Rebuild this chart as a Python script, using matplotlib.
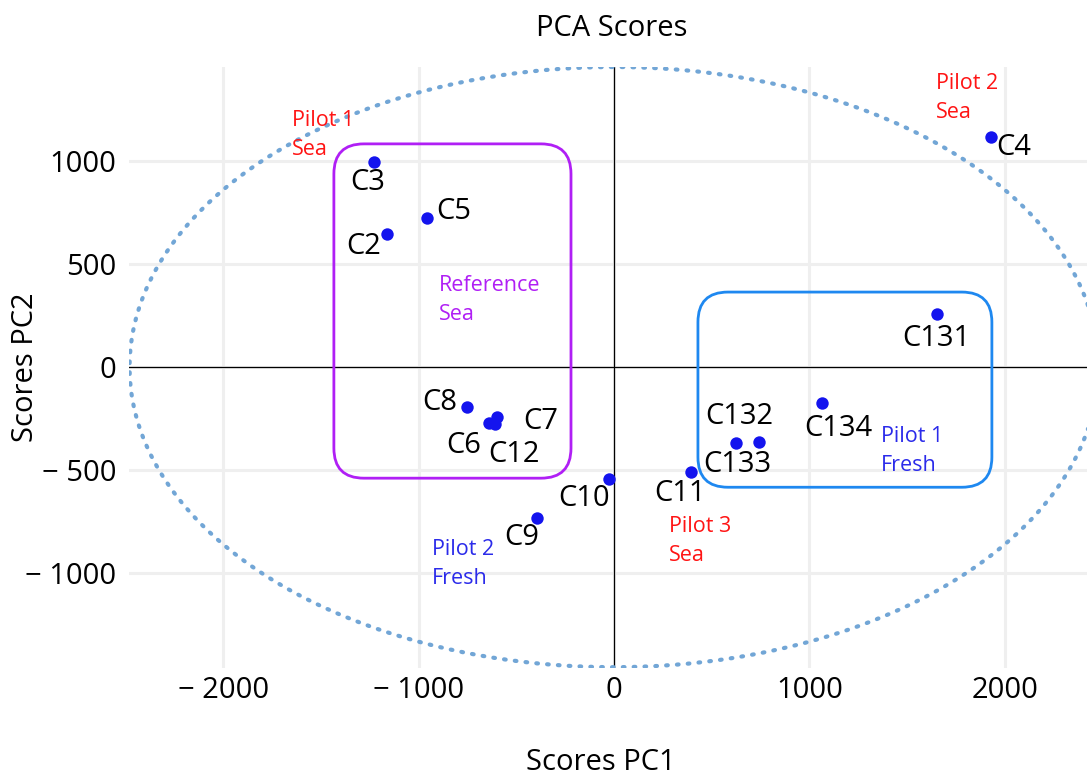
import numpy as np
import matplotlib
matplotlib.use('Agg')
import matplotlib.pyplot as plt
from matplotlib.patches import FancyBboxPatch

# ---------------- data ----------------
sample_names = ['C3', 'C2', 'C5', 'C8', 'C7', 'C6', 'C12', 'C10', 'C9',
                'C11', 'C132', 'C133', 'C134', 'C131', 'C4']
pc1_scores = [-1229, -1162, -957, -753, -599, -640, -609, -26, -394,
              394, 742, 625, 1065, 1654, 1930]
pc2_scores = [995, 646, 723, -194, -243, -272, -277, -544, -733,
              -510, -364, -369, -175, 257, 1117]

x_ticks = [-2000, -1000, 0, 1000, 2000]
x_tick_labels = ['\u2212 2000', '\u2212 1000', '0', '1000', '2000']
y_ticks = [-1000, -500, 0, 500, 1000]
y_tick_labels = ['\u2212 1000', '\u2212 500', '0', '500', '1000']

ellipse_center = (0, 0)
ellipse_radii = (2480, 1456)

group_names = ['Reference\nSea', 'Pilot 1\nFresh']
group_x_range = [(-1434, -220), (430, 1935)]
group_y_range = [(-539, 1083), (-583, 364)]

note_texts = ['Pilot 1\nSea', 'Pilot 2\nSea', 'Reference\nSea',
              'Pilot 1\nFresh', 'Pilot 2\nFresh', 'Pilot 3\nSea']
note_x = [-1649, 1649, -896, 1367, -932, 282]
note_y = [1126, 1306, 325, -408, -956, -845]

# ---------------- styles ----------------
label_offsets = {  # pixel offsets of label centers from points
    'C3': (-6, -20), 'C2': (-23, -13), 'C5': (27, 7), 'C8': (-27, 5),
    'C7': (44, -4), 'C6': (-25, -22), 'C12': (19, -30), 'C10': (-25, -19),
    'C9': (-15, -19), 'C11': (-11, -21), 'C132': (-20, 26), 'C133': (1, -21),
    'C134': (16, -25), 'C131': (-1, -24), 'C4': (23, -11),
}
note_colors = ['#ff1414', '#ff1414', '#b01ff5', '#2b2bea', '#2b2bea', '#ff1414']
group_colors = ['#b01ff5', '#1e88f0']

plt.rcParams['font.family'] = ['Open Sans', 'DejaVu Sans']

W, H = 1087, 775
fig = plt.figure(figsize=(W / 100, H / 100), dpi=100)
ax = fig.add_axes([129 / W, 1 - 668 / H, (1087 - 129) / W, (668 - 67) / H])
ax.set_xlim(-2483, 2422)
ax.set_ylim(-1460, 1456)

for s in ax.spines.values():
    s.set_visible(False)

ax.set_xticks(x_ticks)
ax.set_xticklabels(x_tick_labels)
ax.set_yticks(y_ticks)
ax.set_yticklabels(y_tick_labels)
ax.tick_params(axis='both', length=0, labelsize=21, labelcolor='black')
ax.tick_params(axis='x', pad=6)
ax.tick_params(axis='y', pad=9)
ax.grid(True, color='#efefef', linewidth=2.2, zorder=0)
ax.set_axisbelow(True)

# zero lines
ax.axhline(0, color='black', linewidth=0.9, zorder=1)
ax.axvline(0, color='black', linewidth=0.9, zorder=1)

# confidence ellipse
t = np.linspace(0, 2 * np.pi, 600)
ex = ellipse_center[0] + ellipse_radii[0] * np.cos(t)
ey = ellipse_center[1] + ellipse_radii[1] * np.sin(t)
ax.plot(ex, ey, color='#72a6d6', linewidth=3.0, linestyle=(0, (0.4, 2.2)),
        dash_capstyle='round', zorder=2)

# group boxes
px_x = 195.3 / 1000
px_y = 206.0 / 1000
radius_px = 30
for (x0, x1), (y0, y1), col in zip(group_x_range, group_y_range, group_colors):
    rx = radius_px / px_x
    ry = radius_px / px_y
    box = FancyBboxPatch((x0, y0), x1 - x0, y1 - y0,
                         boxstyle=f'round,pad=0,rounding_size={rx}',
                         mutation_aspect=ry / rx,
                         fill=False, edgecolor=col, linewidth=2.0, zorder=3)
    ax.add_patch(box)

# points
ax.scatter(pc1_scores, pc2_scores, s=80, color='#1414ee', zorder=5, linewidths=0)

# point labels
for name, x, y in zip(sample_names, pc1_scores, pc2_scores):
    dx, dy = label_offsets[name]
    ax.annotate(name, (x, y), xytext=(dx * 0.72, dy * 0.72), textcoords='offset points',
                ha='center', va='center', fontsize=21, color='black', zorder=6)

# notes
for txt, x, y, col in zip(note_texts, note_x, note_y, note_colors):
    ax.text(x, y, txt, ha='left', va='center', fontsize=15.5, color=col,
            linespacing=1.5, zorder=6)

fig.text(612 / W, 1 - 29 / H, 'PCA Scores', ha='center', va='center', fontsize=21)
fig.text(601 / W, 1 - 762 / H, 'Scores PC1', ha='center', va='center', fontsize=21)
fig.text(26 / W, 1 - 367 / H, 'Scores PC2', ha='center', va='center', rotation=90,
         fontsize=21)

fig.savefig('out.png', dpi=100)
